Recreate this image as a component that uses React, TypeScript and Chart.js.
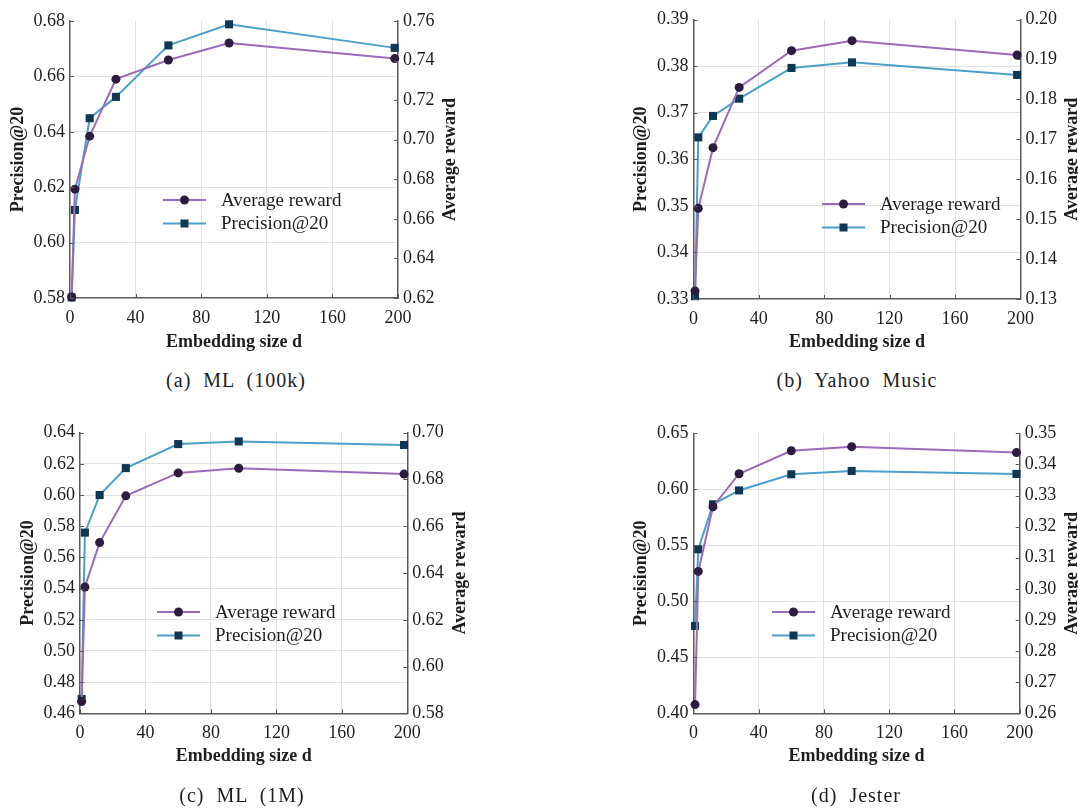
import React, { useEffect, useRef } from "react";
import { Chart, registerables } from "chart.js";
Chart.register(...registerables);

// ---- data ----
const embeddingSizes = [1, 3, 12, 28, 60, 97, 198];
const xTickValues = [0, 40, 80, 120, 160, 200];

const ml100kPrecision = [0.5802, 0.6118, 0.6449, 0.6526, 0.6712, 0.6788, 0.6703];
const ml100kReward = [0.6205, 0.675, 0.7018, 0.7306, 0.7403, 0.7489, 0.741];

const yahooPrecision = [0.3306, 0.3647, 0.3693, 0.373, 0.3796, 0.3808, 0.3781];
const yahooReward = [0.132, 0.1527, 0.1679, 0.183, 0.1922, 0.1947, 0.1911];

const ml1mPrecision = [0.4692, 0.5759, 0.6, 0.6173, 0.6327, 0.6344, 0.6321];
const ml1mReward = [0.585, 0.634, 0.653, 0.673, 0.6828, 0.6848, 0.6823];

const jesterPrecision = [0.478, 0.5464, 0.5866, 0.599, 0.6134, 0.6164, 0.6137];
const jesterReward = [0.2628, 0.3056, 0.3264, 0.337, 0.3444, 0.3457, 0.3438];

const captions = ["(a) ML (100k)", "(b) Yahoo Music", "(c) ML (1M)", "(d) Jester"];
const xTitle = "Embedding size d";
const leftTitle = "Precision@20";
const rightTitle = "Average reward";
const rewardLabel = "Average reward";
const precisionLabel = "Precision@20";

// axis ranges [min, max, step]
const ml100kLeftAxis = [0.58, 0.68, 0.02];
const ml100kRightAxis = [0.62, 0.76, 0.02];
const yahooLeftAxis = [0.33, 0.39, 0.01];
const yahooRightAxis = [0.13, 0.2, 0.01];
const ml1mLeftAxis = [0.46, 0.64, 0.02];
const ml1mRightAxis = [0.58, 0.7, 0.02];
const jesterLeftAxis = [0.4, 0.65, 0.05];
const jesterRightAxis = [0.26, 0.35, 0.01];

// ---- styles ----
const SERIF = "'Liberation Serif', 'Times New Roman', serif";
const PURPLE = "#9a6cb8";
const PURPLE_MARK = "#2c1c40";
const BLUE = "#4aa0c9";
const BLUE_MARK = "#0f3652";
const GRID = "#e2e2e2";
const AXIS = "#5a5a5a";
const TEXT = "#1e1e1e";

type Geo = {
  canvas: { left: number; top: number; w: number; h: number };
  area: { left: number; top: number; right: number; bottom: number };
  yTitleX: number;
  rTitleX: number;
  xTitleY: number;
  legend: { x: number; y: number };
  caption: { x: number; y: number };
};

const panels: {
  precision: number[];
  reward: number[];
  left: number[];
  right: number[];
  caption: string;
  geo: Geo;
}[] = [
  {
    precision: ml100kPrecision,
    reward: ml100kReward,
    left: ml100kLeftAxis,
    right: ml100kRightAxis,
    caption: captions[0],
    geo: {
      canvas: { left: 0, top: 0, w: 540, h: 360 },
      area: { left: 70, top: 21, right: 398, bottom: 298 },
      yTitleX: 18,
      rTitleX: 450,
      xTitleY: 342,
      legend: { x: 163, y: 200 },
      caption: { x: 236, y: 380 },
    },
  },
  {
    precision: yahooPrecision,
    reward: yahooReward,
    left: yahooLeftAxis,
    right: yahooRightAxis,
    caption: captions[1],
    geo: {
      canvas: { left: 540, top: 0, w: 538, h: 360 },
      area: { left: 693.4, top: 19.5, right: 1020.4, bottom: 299 },
      yTitleX: 641,
      rTitleX: 1072,
      xTitleY: 342,
      legend: { x: 822, y: 204 },
      caption: { x: 857, y: 380 },
    },
  },
  {
    precision: ml1mPrecision,
    reward: ml1mReward,
    left: ml1mLeftAxis,
    right: ml1mRightAxis,
    caption: captions[2],
    geo: {
      canvas: { left: 0, top: 400, w: 540, h: 408 },
      area: { left: 80, top: 432.7, right: 407.3, bottom: 713.3 },
      yTitleX: 28,
      rTitleX: 460,
      xTitleY: 756.7,
      legend: { x: 157, y: 612 },
      caption: { x: 242, y: 795 },
    },
  },
  {
    precision: jesterPrecision,
    reward: jesterReward,
    left: jesterLeftAxis,
    right: jesterRightAxis,
    caption: captions[3],
    geo: {
      canvas: { left: 540, top: 400, w: 538, h: 408 },
      area: { left: 693.4, top: 433.3, right: 1019.7, bottom: 713.3 },
      yTitleX: 641,
      rTitleX: 1072,
      xTitleY: 756.7,
      legend: { x: 772, y: 612 },
      caption: { x: 856, y: 795 },
    },
  },
];

const TICK_FONT = 18;
const TITLE_FONT = 18;
const LH = TITLE_FONT * 1.2;

const decorPlugin = {
  id: "decor",
  afterDraw(chart: any, _args: any, opts: any) {
    const { ctx, chartArea: a, scales } = chart;
    ctx.save();
    ctx.strokeStyle = AXIS;
    ctx.lineWidth = 1;
    const seg = (x1: number, y1: number, x2: number, y2: number) => {
      ctx.beginPath();
      ctx.moveTo(x1, y1);
      ctx.lineTo(x2, y2);
      ctx.stroke();
    };
    scales.y.ticks.forEach((t: any) => {
      const py = Math.round(scales.y.getPixelForValue(t.value)) + 0.5;
      seg(a.left, py, a.left + 4, py);
    });
    scales.y1.ticks.forEach((t: any) => {
      const py = Math.round(scales.y1.getPixelForValue(t.value)) + 0.5;
      seg(a.right - 4, py, a.right, py);
    });
    scales.x.ticks.forEach((t: any) => {
      const px = Math.round(scales.x.getPixelForValue(t.value)) + 0.5;
      seg(px, a.bottom, px, a.bottom - 4);
    });

    // right axis title, reading bottom-to-top
    ctx.fillStyle = TEXT;
    ctx.font = `bold ${TITLE_FONT}px ${SERIF}`;
    ctx.textAlign = "center";
    ctx.textBaseline = "middle";
    ctx.save();
    ctx.translate(opts.rTitleX, (a.top + a.bottom) / 2);
    ctx.rotate(-Math.PI / 2);
    ctx.fillText(rightTitle, 0, 0);
    ctx.restore();

    // legend
    const items = chart.data.datasets;
    ctx.font = `19px ${SERIF}`;
    ctx.textAlign = "left";
    items.forEach((ds: any, i: number) => {
      const y = opts.legendY + i * 23.5;
      const x0 = opts.legendX;
      ctx.strokeStyle = ds.borderColor;
      ctx.lineWidth = 2;
      seg(x0, y, x0 + 43, y);
      ctx.fillStyle = ds.pointBackgroundColor;
      const cx = x0 + 21.5;
      if (ds.pointStyle === "rect") {
        ctx.fillRect(cx - 4, y - 4, 8, 8);
      } else {
        ctx.beginPath();
        ctx.arc(cx, y, 4.5, 0, Math.PI * 2);
        ctx.fill();
      }
      ctx.fillStyle = TEXT;
      ctx.fillText(ds.label, x0 + 58, y + 1);
    });
    ctx.restore();
  },
};

function Panel({ p }: { p: (typeof panels)[number] }) {
  const ref = useRef<HTMLCanvasElement>(null);
  useEffect(() => {
    const g = p.geo;
    const c = g.canvas;
    const aL = g.area.left - c.left;
    const aR = g.area.right - c.left;
    const aT = g.area.top - c.top;
    const aB = g.area.bottom - c.top;
    const yTitleLocal = g.yTitleX - c.left;
    const padL = yTitleLocal - LH / 2;
    const xBoxBottom = g.xTitleY - c.top + LH / 2;
    const padB = c.h - xBoxBottom;

    const [lMin, lMax, lStep] = p.left;
    const [rMin, rMax, rStep] = p.right;
    const near = (a: number, b: number) => Math.abs(a - b) < 1e-9;

    const chart = new Chart(ref.current!, {
      type: "line",
      data: {
        datasets: [
          {
            label: rewardLabel,
            data: embeddingSizes.map((d, i) => ({ x: d, y: p.reward[i] })),
            yAxisID: "y1",
            borderColor: PURPLE,
            backgroundColor: PURPLE,
            borderWidth: 2,
            pointStyle: "circle",
            pointRadius: 4.5,
            pointBackgroundColor: PURPLE_MARK,
            pointBorderColor: PURPLE_MARK,
            pointBorderWidth: 0,
            clip: false as any,
          },
          {
            label: precisionLabel,
            data: embeddingSizes.map((d, i) => ({ x: d, y: p.precision[i] })),
            yAxisID: "y",
            borderColor: BLUE,
            backgroundColor: BLUE,
            borderWidth: 2,
            pointStyle: "rect",
            pointRadius: 5.7,
            pointBackgroundColor: BLUE_MARK,
            pointBorderColor: BLUE_MARK,
            pointBorderWidth: 0,
            clip: false as any,
          },
        ],
      },
      options: {
        animation: false,
        responsive: false,
        devicePixelRatio: 1,
        layout: { padding: { left: padL, top: aT, right: 0, bottom: padB } },
        plugins: {
          legend: { display: false },
          tooltip: { enabled: false },
          decor: {
            rTitleX: g.rTitleX - c.left,
            legendX: g.legend.x - c.left,
            legendY: g.legend.y - c.top,
          },
        } as any,
        scales: {
          x: {
            type: "linear",
            min: 0,
            max: 200,
            afterBuildTicks: (s: any) => {
              s.ticks = xTickValues.map((v) => ({ value: v }));
            },
            afterFit: (s: any) => {
              s.height = xBoxBottom - aB;
            },
            ticks: {
              font: { family: SERIF, size: TICK_FONT },
              color: TEXT,
              padding: 9,
              maxRotation: 0,
              callback: (v: any) => String(v),
            },
            grid: {
              color: (ctx: any) =>
                ctx.tick && (ctx.tick.value === 0 || ctx.tick.value === 200) ? "rgba(0,0,0,0)" : GRID,
              drawTicks: false,
              lineWidth: 1,
            },
            border: { display: true, color: AXIS, width: 1.5 },
            title: {
              display: true,
              text: xTitle,
              font: { family: SERIF, size: TITLE_FONT, weight: "bold" },
              color: TEXT,
              padding: { top: 0, bottom: 0 },
            },
          },
          y: {
            type: "linear",
            position: "left",
            min: lMin,
            max: lMax,
            ticks: {
              stepSize: lStep,
              font: { family: SERIF, size: TICK_FONT },
              color: TEXT,
              padding: 5,
              callback: (v: any) => Number(v).toFixed(2),
            },
            afterFit: (s: any) => {
              s.width = aL - padL;
            },
            grid: {
              color: (ctx: any) =>
                ctx.tick && (near(ctx.tick.value, lMin) || near(ctx.tick.value, lMax)) ? "rgba(0,0,0,0)" : GRID,
              drawTicks: false,
              lineWidth: 1,
            },
            border: { display: true, color: AXIS, width: 1.5 },
            title: {
              display: true,
              text: leftTitle,
              font: { family: SERIF, size: TITLE_FONT, weight: "bold" },
              color: TEXT,
              padding: { top: 0, bottom: 0 },
            },
          },
          y1: {
            type: "linear",
            position: "right",
            min: rMin,
            max: rMax,
            ticks: {
              stepSize: rStep,
              font: { family: SERIF, size: TICK_FONT },
              color: TEXT,
              padding: 5,
              callback: (v: any) => Number(v).toFixed(2),
            },
            afterFit: (s: any) => {
              s.width = c.w - aR;
            },
            grid: { drawOnChartArea: false, drawTicks: false },
            border: { display: true, color: AXIS, width: 1.5 },
          },
        },
      },
      plugins: [decorPlugin as any],
    });
    return () => chart.destroy();
  }, [p]);

  const c = p.geo.canvas;
  return (
    <>
      <canvas
        ref={ref}
        width={c.w}
        height={c.h}
        style={{ position: "absolute", left: c.left, top: c.top, width: c.w, height: c.h }}
      />
      <div
        style={{
          position: "absolute",
          left: p.geo.caption.x,
          top: p.geo.caption.y - 12,
          transform: "translateX(-50%)",
          whiteSpace: "nowrap",
          fontFamily: SERIF,
          fontSize: 20,
          lineHeight: "24px",
          letterSpacing: "1px",
          wordSpacing: "6px",
          color: TEXT,
        }}
      >
        {p.caption}
      </div>
    </>
  );
}

export default function App() {
  return (
    <div
      style={{
        position: "absolute",
        left: 0,
        top: 0,
        width: 1078,
        height: 808,
        background: "#ffffff",
        overflow: "hidden",
      }}
    >
      {panels.map((p, i) => (
        <Panel key={i} p={p} />
      ))}
    </div>
  );
}
